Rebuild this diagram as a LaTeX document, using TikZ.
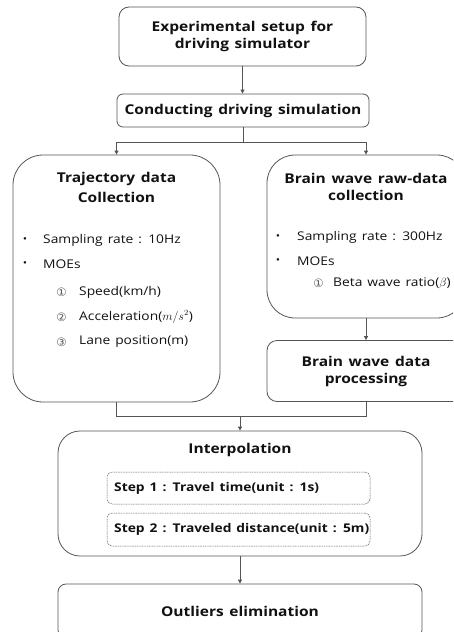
\documentclass[tikz,border=0pt]{standalone}
\usepackage{fontspec}
\setmainfont{Open Sans}[FakeStretch=1.15, WordSpace={1.4,1,1}]
\newfontfamily\symfont{DejaVu Sans}
\usetikzlibrary{arrows.meta}

\definecolor{linegray}{HTML}{555555}
\definecolor{txt}{HTML}{111111}

\tikzset{
  box/.style={draw=linegray, line width=0.8pt, inner sep=0pt},
  stepbox/.style={draw=linegray, line width=0.5pt, dash pattern=on 1pt off 0.7pt,
                  rounded corners=5pt, minimum width=263pt, inner sep=0pt},
  title/.style={font=\bfseries\fontsize{13.5}{17}\selectfont, text=txt, align=center, inner sep=0pt},
  item/.style={font=\fontsize{12}{14}\selectfont, text=txt, anchor=west, inner sep=0pt},
  stepitem/.style={font=\bfseries\fontsize{12}{14}\selectfont, text=txt, anchor=west, inner sep=0pt},
  num/.style={font=\symfont\fontsize{11.5}{13}\selectfont, text=linegray, inner sep=0pt},
  dot/.style={font=\fontsize{10}{12}\selectfont, text=txt, inner sep=0pt},
  link/.style={draw=linegray, line width=0.8pt},
  arr/.style={link, -{Triangle[length=4pt,width=4pt]}},
}

\begin{document}
\begin{tikzpicture}[x=1pt, y=-1pt]
\useasboundingbox (0,0) rectangle (453,632);
\clip (0,0) rectangle (453,632);

% main process boxes
\node[box, rounded corners=10pt, minimum width=247pt, minimum height=59pt, title]
  (setup) at (242.5,36.5) {Experimental setup for\\driving simulator};
\node[box, rounded corners=6pt, minimum width=252pt, minimum height=33pt, title]
  (cond) at (243,110.5) {Conducting driving simulation};

% trajectory data collection
\node[box, rounded corners=30pt, minimum width=207pt, minimum height=247pt]
  (traj) at (116.5,278.5) {};
\node[title] (trajt1) at (116.5,179) {Trajectory data};
\node[title] (trajt2) at (116.5,197.5) {Collection};
\node[dot] (tb1) at (25,240) {•};
\node[item] (ti1) at (43,240) {Sampling rate : 10Hz};
\node[dot] (tb2) at (25,264) {•};
\node[item] (ti2) at (43,264) {MOEs};
\node[num] (tn1) at (61.5,292) {①};
\node[item] (tm1) at (79,292) {Speed(km/h)};
\node[num] (tn2) at (61.5,317) {②};
\node[item] (tm2) at (79,317) {Acceleration($m/s^2$)};
\node[num] (tn3) at (61.5,342) {③};
\node[item] (tm3) at (79,342) {Lane position(m)};

% brain wave raw-data collection
\node[box, rounded corners=28pt, minimum width=198pt, minimum height=163pt]
  (raw) at (366,236.5) {};
\node[title] (rawt1) at (366,178) {Brain wave raw-data};
\node[title] (rawt2) at (366,195.5) {collection};
\node[dot] (rb1) at (278,237) {•};
\node[item] (ri1) at (297,237) {Sampling rate : 300Hz};
\node[dot] (rb2) at (278,261) {•};
\node[item] (ri2) at (297,261) {MOEs};
\node[num] (rn1) at (318.5,283) {①};
\node[item] (rm1) at (333,283) {Beta wave ratio($\beta$)};

% brain wave data processing
\node[box, rounded corners=10pt, minimum width=198pt, minimum height=61pt, title]
  (proc) at (366,371) {Brain wave data\\processing};

% interpolation
\node[box, rounded corners=22pt, minimum width=364pt, minimum height=125pt]
  (interp) at (240,493.5) {};
\node[title] (interpt) at (240,450) {Interpolation};
\node[stepbox, minimum height=32pt] (step1) at (238.5,488) {};
\node[stepbox, minimum height=33pt] (step2) at (238.5,529.5) {};
\node[stepitem] (s1) at (114,488) {Step 1 : Travel time(unit : 1s)};
\node[stepitem] (s2) at (114,529.5) {Step 2 : Traveled distance(unit : 5m)};

% outliers elimination
\node[box, rounded corners=8pt, minimum width=364pt, minimum height=54pt, title]
  (outl) at (240,611) {Outliers elimination};

% connectors
\draw[arr] (setup.south) -- (setup.south |- cond.north);
\coordinate (split) at (243,142);
\draw[link] (cond.south) -- (split);
\draw[arr] (split) -| (traj.north);
\draw[arr] (split) -| (raw.north);
\draw[arr] (raw.south) -- (proc.north);
\coordinate (merge) at (240,416);
\draw[link] (traj.south) |- (merge);
\draw[link] (proc.south) |- (merge);
\draw[arr] (merge) -- (interp.north);
\draw[arr] (interp.south) -- (outl.north);
\end{tikzpicture}
\end{document}
